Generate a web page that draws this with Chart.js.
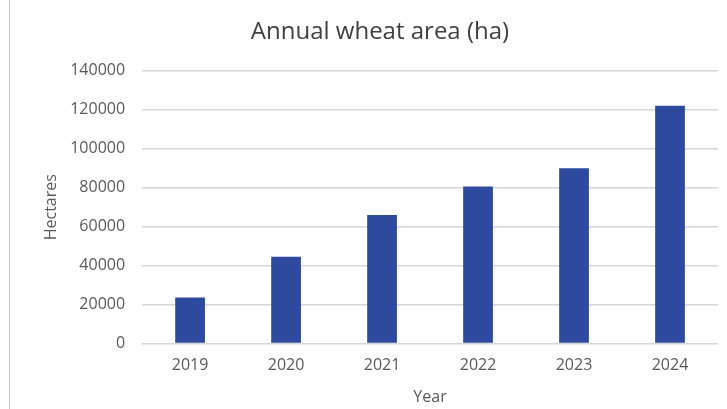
<!DOCTYPE html>
<html>
<head>
  <title>Annual wheat area</title>
  <script src="https://cdn.jsdelivr.net/npm/chart.js"></script>
  <style>
    body { margin: 0; background: #fff; }
    #wrap { position: absolute; left: 0; top: 0; width: 727px; height: 409px; }
    #edge { position: absolute; left: 9px; top: 0; width: 1px; height: 409px; background: #c4c4c4; }
  </style>
</head>
<body>
  <div id="edge"></div>
  <div id="wrap"><canvas id="wheat-chart"></canvas></div>
  <script>
    // Values
    const years = ['2019', '2020', '2021', '2022', '2023', '2024'];
    const hectares = [23700, 44600, 66000, 80600, 90000, 122000];

    const textColor = '#595959';
    const font = 'Open Sans';

    const ctx = document.getElementById('wheat-chart').getContext('2d');
    new Chart(ctx, {
      type: 'bar',
      data: {
        labels: years,
        datasets: [
          {
            label: 'Hectares',
            data: hectares,
            backgroundColor: '#2d4a9f',
            barPercentage: 0.31,
            categoryPercentage: 1,
          },
        ],
      },
      options: {
        responsive: true,
        maintainAspectRatio: false,
        animation: false,
        layout: { padding: { left: 42, right: 9, top: 12, bottom: 2 } },
        plugins: {
          legend: { display: false },
          tooltip: { enabled: false },
          title: {
            display: true,
            text: 'Annual wheat area (ha)',
            color: '#404040',
            font: { family: font, size: 24, weight: 'normal' },
            padding: { top: 6, bottom: 24 },
          },
        },
        scales: {
          x: {
            grid: { display: false, drawTicks: false },
            border: { display: false },
            ticks: { color: textColor, font: { family: font, size: 16 }, padding: 12 },
            title: {
              display: true,
              text: 'Year',
              color: textColor,
              font: { family: font, size: 16 },
              padding: { top: 1, bottom: 0 },
            },
          },
          y: {
            min: 0,
            max: 140000,
            grid: { color: '#d6d6d6', lineWidth: 1.5, drawTicks: false },
            border: { display: false },
            ticks: {
              stepSize: 20000,
              color: textColor,
              font: { family: font, size: 16 },
              padding: 17,
              callback: value => String(value),
            },
            title: {
              display: true,
              text: 'Hectares',
              color: textColor,
              font: { family: font, size: 16 },
              padding: { top: 0, bottom: -8 },
            },
          },
        },
      },
    });
  </script>
</body>
</html>
